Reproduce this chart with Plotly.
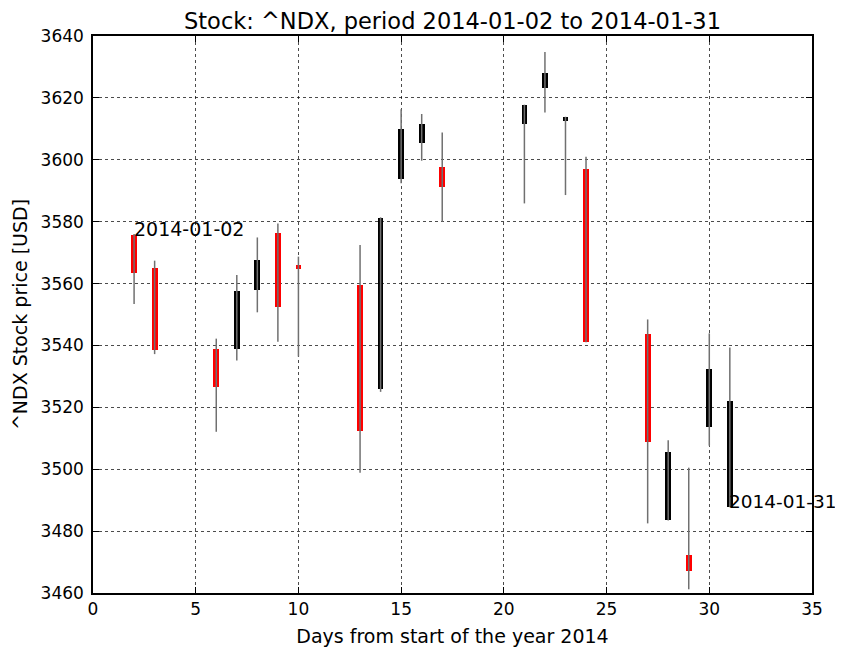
import plotly.graph_objects as go

# Data (day of year 2014, OHLC)
days = [2, 3, 6, 7, 8, 9, 10, 13, 14, 15, 16, 17, 21, 22, 23, 24, 27, 28, 29, 30, 31]
opens = [3575.7, 3564.9, 3538.9, 3538.8, 3557.9, 3576.4, 3565.9, 3559.6, 3525.8, 3593.7, 3605.4,
         3597.6, 3611.6, 3623.1, 3612.5, 3597.1, 3543.6, 3483.6, 3472.3, 3513.7, 3487.7]
highs = [3576.0, 3567.4, 3542.2, 3562.8, 3574.9, 3579.4, 3568.7, 3572.5, 3581.4, 3616.3, 3614.8,
         3608.8, 3617.8, 3634.8, 3613.9, 3601.0, 3548.4, 3509.4, 3500.5, 3543.9, 3539.3]
lows = [3553.4, 3537.2, 3512.1, 3535.1, 3550.7, 3541.2, 3536.4, 3498.9, 3525.0, 3592.4, 3599.7,
        3580.0, 3585.9, 3615.3, 3588.6, 3541.0, 3482.5, 3483.4, 3461.2, 3507.6, 3487.7]
closes = [3563.3, 3538.5, 3526.7, 3557.7, 3567.6, 3552.3, 3564.8, 3512.4, 3581.1, 3609.9, 3611.5,
          3591.1, 3617.8, 3628.0, 3613.9, 3541.2, 3508.7, 3505.6, 3467.2, 3532.5, 3522.0]
first_label = "2014-01-02"
last_label = "2014-01-31"

FONT = "DejaVu Sans"
W, H = 835, 640  # page body has an 8px margin

fig = go.Figure()

# wicks
wx, wy = [], []
for d, h, l in zip(days, highs, lows):
    wx += [d, d, None]
    wy += [l, h, None]
fig.add_trace(go.Scatter(x=wx, y=wy, mode="lines",
                         line=dict(color="#707070", width=1.5),
                         hoverinfo="skip", showlegend=False))

# bodies
for up, color in [(True, "#000000"), (False, "#ff0000")]:
    xs, bases, hs = [], [], []
    for d, o, c in zip(days, opens, closes):
        if (c >= o) == up:
            xs.append(d)
            bases.append(min(o, c))
            hs.append(max(abs(c - o), 0.4))
    fig.add_trace(go.Bar(x=xs, y=hs, base=bases, width=0.28,
                         marker=dict(color=color, line=dict(width=0)),
                         showlegend=False))

fig.add_annotation(x=days[0], y=opens[0], text=first_label, showarrow=False,
                   xanchor="left", yanchor="bottom", yshift=-7, xshift=-2,
                   font=dict(family=FONT, size=19, color="black"))
fig.add_annotation(x=days[-1], y=opens[-1], text=last_label, showarrow=False,
                   xanchor="left", yanchor="bottom", yshift=-7, xshift=-3,
                   font=dict(family=FONT, size=18.5, color="black"))

axis_common = dict(showline=True, linecolor="black", linewidth=1.5, mirror="ticks",
                   ticks="inside", ticklen=6, tickcolor="black", tickwidth=1,
                   showgrid=True, gridcolor="rgba(0,0,0,0.7)", griddash="dot", gridwidth=1,
                   zeroline=False, automargin=False,
                   tickfont=dict(family=FONT, size=17, color="black"))

fig.update_xaxes(range=[0, 35], dtick=5, tick0=0,
                 title=dict(text="Days from start of the year 2014",
                            font=dict(family=FONT, size=19, color="black"), standoff=12),
                 **axis_common)
fig.update_yaxes(range=[3460, 3640], dtick=20, tick0=3460, ticklabelstandoff=4,
                 title=dict(text="^NDX Stock price [USD]",
                            font=dict(family=FONT, size=19, color="black"), standoff=8),
                 **axis_common)

fig.update_layout(
    width=W, height=H,
    margin=dict(l=85, r=31, t=28, b=55, autoexpand=False),
    paper_bgcolor="white", plot_bgcolor="white",
    barmode="overlay", bargap=0,
    title=dict(text="Stock: ^NDX, period 2014-01-02 to 2014-01-31",
               font=dict(family=FONT, size=22.5, color="black"),
               x=444.5 / W, xanchor="center", xref="container",
               y=1 - 13 / H, yanchor="middle", yref="container",
               automargin=False),
    font=dict(family=FONT),
)

fig.write_html("out.html")
